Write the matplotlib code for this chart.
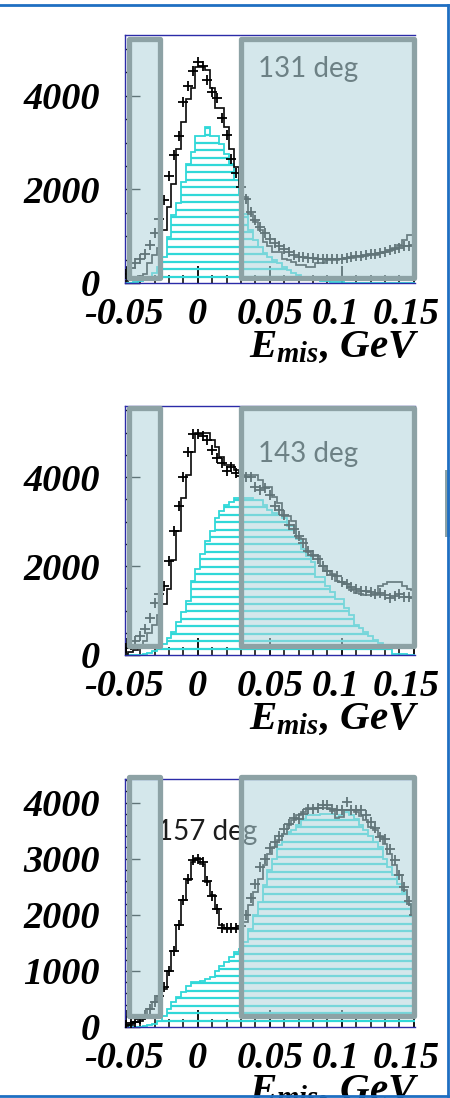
import numpy as np
import matplotlib
matplotlib.use("Agg")
import matplotlib.pyplot as plt
import matplotlib.transforms as mtransforms
from matplotlib.patches import Rectangle
from matplotlib.collections import LineCollection
from matplotlib.lines import Line2D

plt.rcParams["font.family"] = ["Liberation Serif", "DejaVu Serif"]
plt.rcParams["font.weight"] = "bold"
plt.rcParams["font.style"] = "italic"
plt.rcParams["mathtext.fontset"] = "custom"
plt.rcParams["mathtext.it"] = "Liberation Serif:italic:bold"
plt.rcParams["mathtext.rm"] = "Liberation Serif:italic:bold"
plt.rcParams["mathtext.bf"] = "Liberation Serif:italic:bold"

# ---- binning: width 1/300 GeV, bins centred on multiples of 1/300 ----
bin_width = 1.0 / 300.0
bin_centres = np.arange(-15, 46) * bin_width          # 61 bins, -0.05 ... 0.15
bin_edges = np.append(bin_centres - bin_width / 2, bin_centres[-1] + bin_width / 2)

angle_labels = ["131 deg", "143 deg", "157 deg"]

# ---- 131 deg ----
data_131 = [200, 310, 430, 520, 614, 815, 1064, 1376, 1766, 2283,
            2738, 3149, 3858, 4213, 4532, 4730, 4638, 4340, 4085, 3964,
            3525, 3163, 2652, 2347, 2050, 1787, 1517, 1340, 1198, 1070,
            950, 860, 787, 720, 666, 596, 560, 546, 540, 539,
            518, 504, 504, 504, 504, 520, 539, 560, 574, 580,
            589, 610, 630, 645, 666, 702, 720, 738, 787, 800,
            808]
mc_131 = [40, 64, 64, 149, 200, 418, 600, 738, 1142, 1624,
          2106, 2865, 3433, 3929, 4163, 4617, 4617, 4560, 4177, 3750,
          3750, 3326, 2872, 2475, 2100, 1837, 1482, 1305, 1128, 880,
          800, 666, 666, 520, 489, 454, 383, 383, 348, 348,
          418, 418, 489, 489, 489, 510, 525, 540, 560, 560,
          580, 596, 596, 640, 666, 680, 738, 808, 915, 1021,
          1021]
sig_131 = [0, 10, 20, 40, 60, 120, 206, 350, 560, 986,
           1447, 1709, 2156, 2546, 2794, 3149, 3149, 3326, 3149, 3149,
           2972, 2759, 2546, 2191, 1900, 1482, 1128, 915, 780, 631,
           560, 489, 420, 348, 280, 206, 170, 135, 110, 90,
           64, 50, 40, 30, 20, 15, 10, 10, 5, 5,
           0, 0, 0, 0, 0, 0, 0, 0, 0, 0,
           0]

# ---- 143 deg ----
data_143 = [150, 220, 304, 437, 578, 837, 1178, 1380, 1563, 2119,
            2800, 3356, 3993, 4563, 4970, 4970, 4930, 4837, 4600, 4437,
            4318, 4141, 4230, 4100, 4022, 4007, 4000, 3785, 3711, 3748,
            3600, 3341, 3267, 3156, 2933, 2837, 2674, 2526, 2341, 2244,
            2156, 2007, 1896, 1807, 1785, 1637, 1600, 1526, 1474, 1430,
            1430, 1415, 1378, 1393, 1341, 1281, 1326, 1378, 1304, 1300,
            1290]
mc_143 = [30, 60, 118, 200, 304, 489, 674, 900, 1156, 1489,
          2133, 2800, 3526, 4050, 4563, 4990, 4990, 4990, 4837, 4674,
          4452, 4267, 4267, 4156, 4100, 4044, 4044, 4044, 3933, 3785,
          3785, 3563, 3415, 3119, 3119, 3007, 2637, 2600, 2319, 2230,
          2230, 2007, 1896, 1822, 1674, 1637, 1600, 1452, 1400, 1378,
          1341, 1341, 1341, 1563, 1600, 1652, 1652, 1652, 1560, 1489,
          1452]
sig_143 = [0, 0, 5, 10, 20, 40, 80, 150, 250, 378,
           526, 748, 970, 1207, 1674, 1933, 2267, 2563, 2785, 3081,
           3230, 3378, 3452, 3526, 3541, 3541, 3541, 3489, 3489, 3378,
           3267, 3193, 3156, 3081, 2896, 2896, 2600, 2378, 2230, 2081,
           1748, 1748, 1563, 1420, 1267, 1267, 1050, 896, 674, 600,
           526, 420, 341, 280, 230, 150, 30, 20, 15, 10,
           10]

# ---- 157 deg ----
data_157 = [40, 71, 95, 143, 214, 321, 440, 560, 708, 1006,
            1363, 1810, 2268, 2643, 2970, 2988, 2940, 2595, 2327, 2107,
            1768, 1768, 1760, 1768, 1800, 2000, 2300, 2554, 2851, 3000,
            3196, 3300, 3400, 3520, 3625, 3726, 3700, 3804, 3893, 3893,
            3905, 3952, 3964, 3881, 3863, 3863, 4012, 3863, 3863, 3863,
            3774, 3655, 3548, 3387, 3357, 3179, 2970, 2714, 2494, 2238,
            2000]
mc_157 = [24, 30, 83, 113, 173, 321, 440, 560, 679, 1006,
          1363, 1810, 2256, 2613, 2940, 3012, 2911, 2583, 2345, 2107,
          1810, 1750, 1750, 1750, 1750, 1869, 2167, 2405, 2643, 2881,
          3089, 3200, 3327, 3446, 3595, 3685, 3774, 3833, 3905, 3905,
          3905, 3905, 3905, 3850, 3726, 3744, 3863, 3863, 3833, 3760,
          3685, 3565, 3506, 3400, 3268, 3089, 2881, 2702, 2435, 2196,
          2000]
sig_157 = [0, 0, 0, 5, 10, 30, 60, 113, 202, 321,
           440, 530, 631, 738, 798, 798, 827, 857, 887, 1006,
           1095, 1155, 1244, 1345, 1393, 1512, 1750, 1988, 2226, 2524,
           2800, 3000, 3238, 3446, 3480, 3506, 3595, 3714, 3774, 3774,
           3774, 3804, 3804, 3804, 3744, 3774, 3833, 3774, 3714, 3600,
           3506, 3400, 3300, 3208, 3000, 2851, 2702, 2550, 2405, 2196,
           1988]

panels = [
    dict(data=data_131, mc=mc_131, sig=sig_131, label=angle_labels[0],
         yticks=[0, 2000, 4000], yminor=500, ylim=5300),
    dict(data=data_143, mc=mc_143, sig=sig_143, label=angle_labels[1],
         yticks=[0, 2000, 4000], yminor=500, ylim=5600),
    dict(data=data_157, mc=mc_157, sig=sig_157, label=angle_labels[2],
         yticks=[0, 1000, 2000, 3000, 4000], yminor=200, ylim=4420),
]

xticks = [-0.05, 0, 0.05, 0.1, 0.15]
xtick_labels = ["-0.05", "0", "0.05", "0.1", "0.15"]
xlabel_text = r"$E_{mis}$, GeV"

# excluded E_mis windows (shaded)
cut_windows = [(-0.048, -0.0265), (0.0301, 0.1502)]

W, H = 450, 1098
fig = plt.figure(figsize=(W / 100, H / 100), dpi=100)
fig.patch.set_facecolor("white")

# axes rectangles in pixels (left, top, width, height)
axes_px = [(125, 35, 290, 248), (125, 406, 290, 249), (125, 779, 290, 248)]
box_y = [(0.020, 0.984), (0.036, 0.992), (0.046, 1.008)]
label_y = [0.832, 0.776, 0.754]
label_x = [0.459, 0.459, 0.110]

CYAN = "#30d8d8"
SPINE = "#2b2ba8"
BOX_EDGE = "#8da2a5"
BOX_FILL = (177 / 255, 213 / 255, 220 / 255, 0.55)

label_shift_px = [-2, 0, 0, -6, -8]

for i, (p, (l, t, w, h)) in enumerate(zip(panels, axes_px)):
    ax = fig.add_axes([l / W, 1 - (t + h) / H, w / W, h / H])
    ax.set_facecolor("white")
    ax.set_xlim(-0.0505, 0.1509)
    ax.set_ylim(0, p["ylim"])

    # cyan component: outline + horizontal hatching clipped to its shape
    sig_shape = ax.stairs(p["sig"], bin_edges, fill=True, facecolor="none",
                          edgecolor="none", baseline=0)
    step_px = 7.45
    ys = (6.3 + step_px * np.arange(60)) / h
    ys = ys[ys < 1]
    segs = [[(-0.06, y), (0.16, y)] for y in ys]
    hatch = LineCollection(segs, colors=CYAN, linewidths=1.6,
                           transform=ax.get_xaxis_transform(), zorder=2)
    ax.add_collection(hatch)
    hatch.set_clip_path(sig_shape)
    ax.stairs(p["sig"], bin_edges, color=CYAN, linewidth=1.3, baseline=0, zorder=2.2)

    # total simulation
    ax.stairs(p["mc"], bin_edges, color="#111111", linewidth=1.25, baseline=None,
              zorder=3)

    # measured points
    ax.plot(bin_centres, p["data"], linestyle="none", marker="+", markersize=6.5,
            markeredgewidth=1.3, color="black", zorder=3.5)

    # angle label
    ax.text(label_x[i], label_y[i], p["label"], transform=ax.transAxes,
            fontsize=20, family=["Lato", "DejaVu Sans"], fontweight="normal",
            fontstyle="normal", color="#1c1c1c", ha="left", va="baseline", zorder=4)

    # shaded windows
    y0, y1 = box_y[i]
    for (x0, x1) in cut_windows:
        r = Rectangle((x0, y0), x1 - x0, y1 - y0, transform=ax.get_xaxis_transform(),
                      facecolor=BOX_FILL, edgecolor=BOX_EDGE, linewidth=3.8,
                      joinstyle="round", clip_on=False, zorder=6)
        ax.add_patch(r)

    # axes styling
    for side in ["top", "bottom", "left", "right"]:
        ax.spines[side].set_color(SPINE)
        ax.spines[side].set_linewidth(1.0)
    ax.spines["right"].set_visible(False)

    ax.set_yticks(p["yticks"])
    ax.set_yticklabels([str(v) for v in p["yticks"]])
    ax.set_yticks(np.arange(0, p["ylim"], p["yminor"]), minor=True)
    ax.set_xticks(xticks)
    ax.set_xticklabels(xtick_labels)
    ax.set_xticks(np.arange(-0.05, 0.1501, 0.01), minor=True)

    ax.tick_params(axis="both", which="both", direction="in", top=False, right=False,
                   colors="black", labelsize=27.5)
    ax.tick_params(axis="y", which="major", length=11, width=1.0, pad=18)
    ax.tick_params(axis="y", which="minor", length=4, width=1.0)
    ax.tick_params(axis="x", which="major", length=12, width=1.3, pad=10)
    ax.tick_params(axis="x", which="minor", length=6, width=1.1)

    for lab, dx in zip(ax.get_xticklabels(), label_shift_px):
        lab.set_transform(lab.get_transform() +
                          mtransforms.ScaledTranslation(dx / 100, 0, fig.dpi_scale_trans))

    ax.set_xlabel(xlabel_text, fontsize=29.5, fontweight="bold", fontstyle="italic")
    ax.xaxis.set_label_coords(0.722, -0.185)

# partial frame of the neighbouring panel at the right edge
fig.patches.append(Rectangle((445 / W, 1 - 537 / H), 8 / W, 67 / H,
                             transform=fig.transFigure, facecolor=BOX_EDGE,
                             edgecolor="none", zorder=10))

# outer blue frame (top, right, bottom)
BLUE = "#1f6fc2"
for xs, ys in [([0, 447.5], [4.5, 4.5]), ([447.5, 447.5], [4.5, 1096]),
               ([0, 447.5], [1096, 1096])]:
    fig.lines.append(Line2D([x / W for x in xs], [1 - y / H for y in ys],
                            transform=fig.transFigure, color=BLUE, linewidth=2.0,
                            zorder=20))

fig.savefig("out.png", dpi=100)
